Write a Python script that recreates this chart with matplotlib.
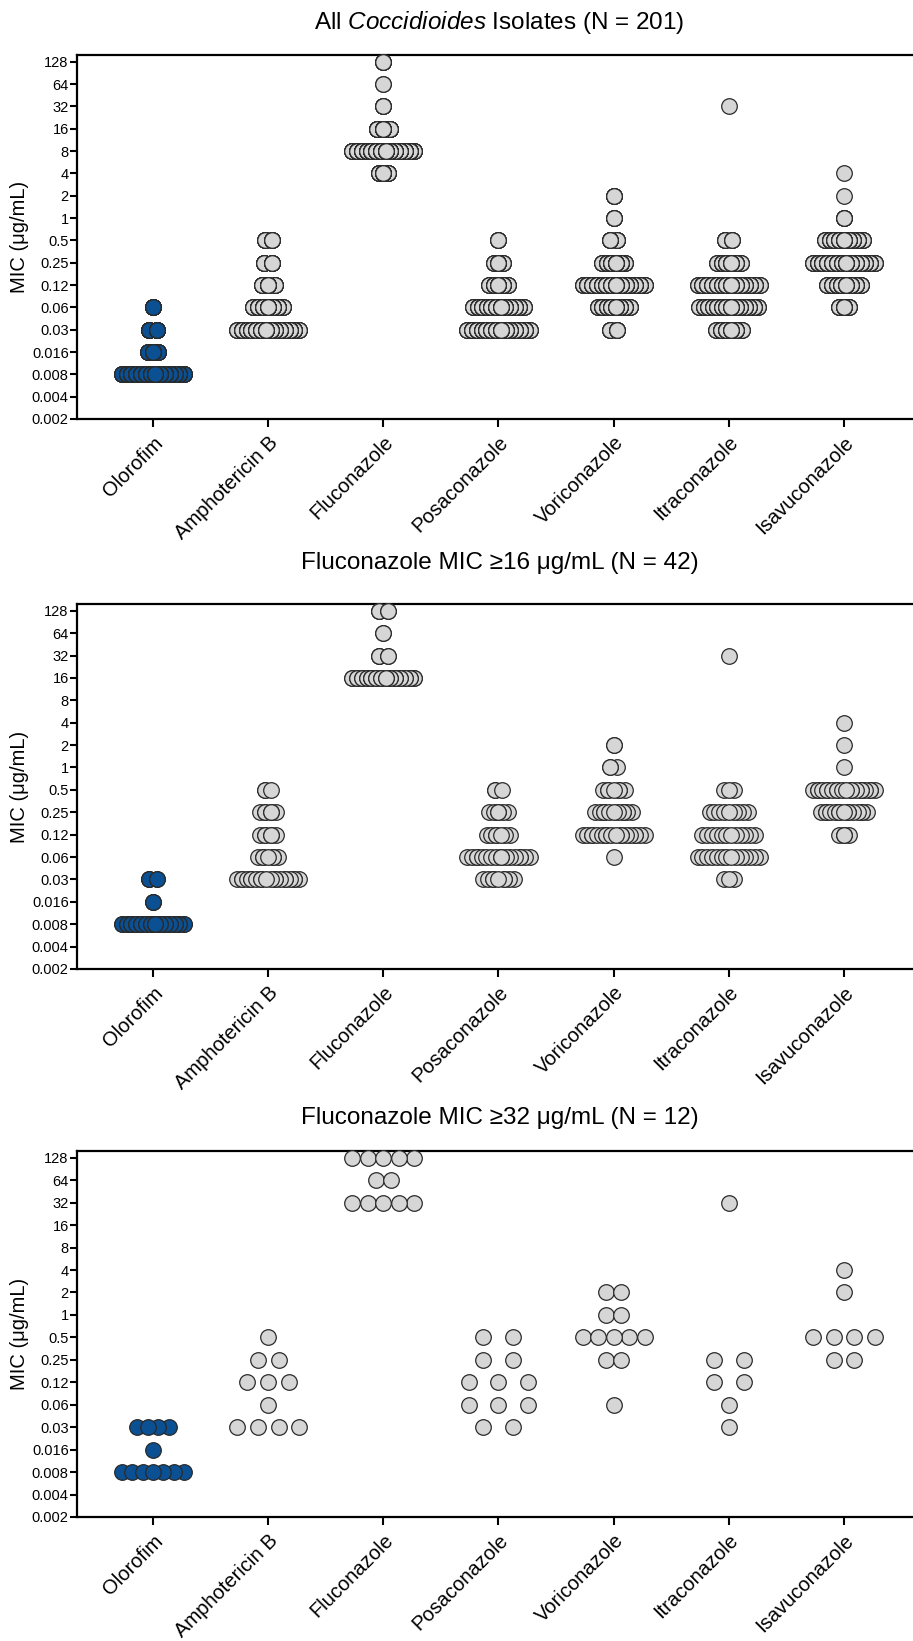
import matplotlib
matplotlib.use('Agg')
import matplotlib.pyplot as plt
import numpy as np

plt.rcParams['font.family'] = ['Liberation Sans', 'DejaVu Sans']
plt.rcParams['mathtext.fontset'] = 'custom'
plt.rcParams['mathtext.rm'] = 'Liberation Sans'
plt.rcParams['mathtext.it'] = 'Liberation Sans:italic'

# MIC levels on the (log2) y axis
mic_labels = ['0.002', '0.004', '0.008', '0.016', '0.03', '0.06', '0.12', '0.25',
              '0.5', '1', '2', '4', '8', '16', '32', '64', '128']
drugs = ['Olorofim', 'Amphotericin B', 'Fluconazole', 'Posaconazole',
         'Voriconazole', 'Itraconazole', 'Isavuconazole']

# number of isolates per MIC level (columns follow mic_labels), one row per drug
#            .002 .004 .008 .016 .03 .06 .12 .25 .5  1  2  4   8  16 32 64 128
counts_all = [
    [0, 0, 152, 23, 18,  8,  0,  0,  0, 0, 0,  0,   0,  0, 0, 0, 0],
    [0, 0,   0,  0, 103, 50, 22, 14, 12, 0, 0,  0,   0,  0, 0, 0, 0],
    [0, 0,   0,  0,  0,  0,  0,  0,  0, 0, 0, 22, 137, 30, 5, 2, 5],
    [0, 0,   0,  0, 85, 70, 27, 14,  5, 0, 0,  0,   0,  0, 0, 0, 0],
    [0, 0,   0,  0, 10, 46, 89, 34, 12, 5, 5,  0,   0,  0, 0, 0, 0],
    [0, 0,   0,  0, 29, 66, 69, 27,  9, 0, 0,  0,   0,  0, 1, 0, 0],
    [0, 0,   0,  0,  0, 14, 46, 83, 51, 5, 1,  1,   0,  0, 0, 0, 0],
]
counts_ge16 = [
    [0, 0, 34, 3, 5,  0,  0,  0,  0, 0, 0, 0, 0,  0, 0, 0, 0],
    [0, 0,  0, 0, 20, 7,  6,  6,  3, 0, 0, 0, 0,  0, 0, 0, 0],
    [0, 0,  0, 0, 0,  0,  0,  0,  0, 0, 0, 0, 0, 30, 5, 2, 5],
    [0, 0,  0, 0, 9, 17,  7,  6,  3, 0, 0, 0, 0,  0, 0, 0, 0],
    [0, 0,  0, 0, 0,  1, 18, 11,  7, 3, 2, 0, 0,  0, 0, 0, 0],
    [0, 0,  0, 0, 3, 14, 12,  9,  3, 0, 0, 0, 0,  0, 1, 0, 0],
    [0, 0,  0, 0, 0,  0,  4, 15, 20, 1, 1, 1, 0,  0, 0, 0, 0],
]
counts_ge32 = [
    [0, 0, 7, 1, 4, 0, 0, 0, 0, 0, 0, 0, 0, 0, 0, 0, 0],
    [0, 0, 0, 0, 4, 1, 3, 2, 1, 0, 0, 0, 0, 0, 0, 0, 0],
    [0, 0, 0, 0, 0, 0, 0, 0, 0, 0, 0, 0, 0, 0, 5, 2, 5],
    [0, 0, 0, 0, 2, 3, 3, 2, 2, 0, 0, 0, 0, 0, 0, 0, 0],
    [0, 0, 0, 0, 0, 1, 0, 2, 5, 2, 2, 0, 0, 0, 0, 0, 0],
    [0, 0, 0, 0, 1, 1, 2, 2, 0, 0, 0, 0, 0, 0, 1, 0, 0],
    [0, 0, 0, 0, 0, 0, 0, 2, 4, 0, 1, 1, 0, 0, 0, 0, 0],
]

titles = [r'All $\it{Coccidioides}$ Isolates (N = 201)',
          'Fluconazole MIC \u226516 \u03bcg/mL (N = 42)',
          'Fluconazole MIC \u226532 \u03bcg/mL (N = 12)']
panels = [counts_all, counts_ge16, counts_ge32]

BLUE = '#0a5093'
GREY = '#d6d6d6'
EDGE = '#2a2a2a'

ROW_SPAN = 0.54   # widest row, in x units
DOT = 0.13        # dot diameter, in x units
MIN_GAP = 0.3 * DOT


def row_offsets(n, step):
    raw = -(n - 1) * step / 2 + np.arange(n) * step
    span = (n - 1) * step
    if n > 1 and step < MIN_GAP:
        n_slots = int(span / MIN_GAP) + 1
        if n_slots == 1:
            return np.zeros(n)
        gap = span / (n_slots - 1)
        raw = np.round((raw + span / 2) / gap) * gap - span / 2
    return raw


fig = plt.figure(figsize=(9.13, 16.41), dpi=100)
# axes boxes in figure pixels: top, bottom
boxes = [(55, 419), (604, 969), (1151, 1517)]
title_y = [22, 563, 1118]
H = 1641.0
left = 77 / 913.0

for p, counts in enumerate(panels):
    top, bot = boxes[p]
    ax = fig.add_axes([left, 1 - bot / H, 1 - left, (bot - top) / H])
    for d, row_counts in enumerate(counts):
        nmax = max(row_counts)
        step = min(2 * DOT, ROW_SPAN / (nmax - 1)) if nmax > 1 else 0
        xs, ys = [], []
        for k, n in enumerate(row_counts):
            if n == 0:
                continue
            off = row_offsets(n, step)
            xs.extend(d + off)
            ys.extend([k] * n)
        xs = np.array(xs)
        ys = np.array(ys)
        # outer dots first so the centre dot ends on top
        order = np.argsort(-np.abs(xs - d), kind='stable')
        ax.scatter(xs[order], ys[order], s=126, c=BLUE if d == 0 else GREY,
                   edgecolors=EDGE, linewidths=0.9, zorder=3, clip_on=False)

    ax.set_xlim(-0.66, 6.6)
    ax.set_ylim(0, 16.3)
    ax.set_yticks(range(len(mic_labels)))
    ax.set_yticklabels(mic_labels, fontsize=10.5)
    ax.set_xticks(range(len(drugs)))
    ax.set_xticklabels(drugs, fontsize=14.5, rotation=45, ha='right',
                       rotation_mode='anchor')
    ax.tick_params(axis='y', length=5, width=1.5, pad=1)
    ax.tick_params(axis='x', length=6, width=1.5, pad=4)
    for side in ['left', 'bottom', 'top']:
        ax.spines[side].set_linewidth(1.6)
    ax.spines['right'].set_visible(False)
    ax.set_ylabel('MIC (\u03bcg/mL)', fontsize=14.5, labelpad=2)
    fig.text(0.547, 1 - title_y[p] / H, titles[p], fontsize=17.5,
             ha='center', va='center')

fig.savefig('out.png', dpi=100)
plt.close(fig)
